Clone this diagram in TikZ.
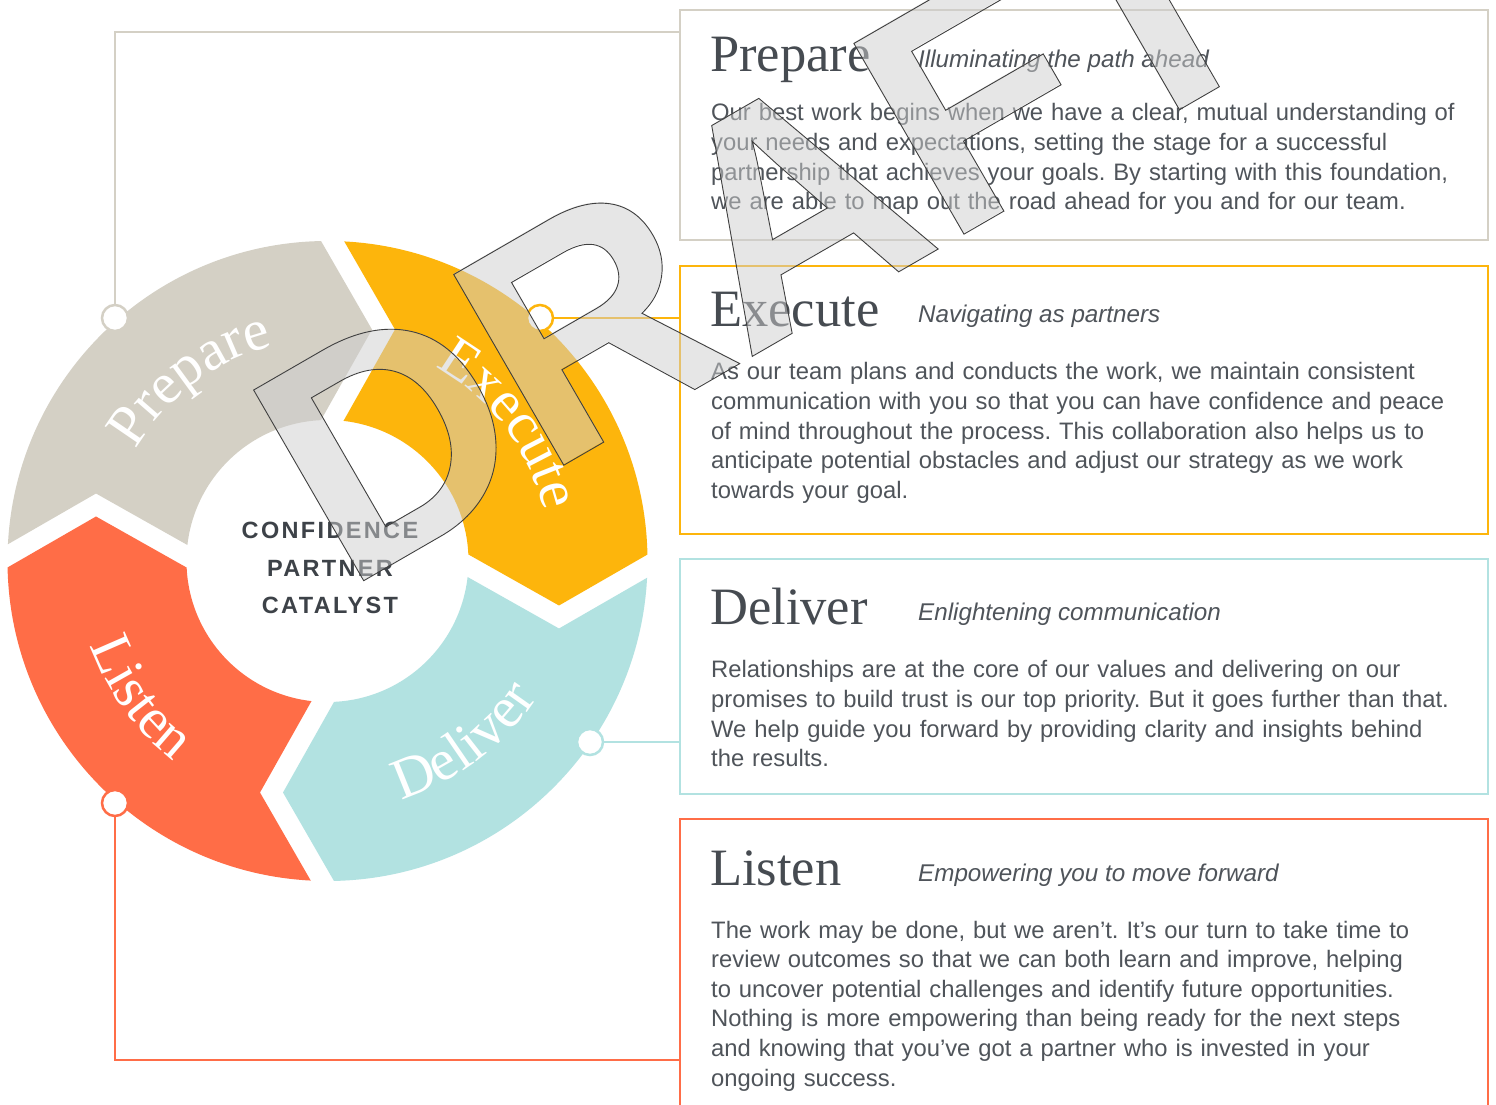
\documentclass[tikz,border=0pt]{standalone}
\usepackage{fontspec}
\setmainfont{Liberation Sans}
\newfontfamily\seriffont{Liberation Serif}
\newfontfamily\spacedfont[LetterSpace=10]{Liberation Sans}
\usetikzlibrary{decorations.text}
\frenchspacing
\definecolor{cgray}{HTML}{D4D0C5}
\definecolor{cyellow}{HTML}{FDB50C}
\definecolor{cteal}{HTML}{B2E2E1}
\definecolor{corange}{HTML}{FF6D47}
\definecolor{chead}{HTML}{464B51}
\definecolor{cbody}{HTML}{4F545A}
\definecolor{ccenter}{HTML}{3D4248}
\definecolor{wmgray}{HTML}{CECECE}
\newcommand\ringfont{\seriffont\fontsize{58}{62}\selectfont}
% #1 = tail boundary angle, #2 = colour (segment runs clockwise to #1-90)
\newcommand\ringseg[2]{%
  \begin{scope}
    \clip (0,0) -- ([shift={(#1-90:-12.2)}]#1:90)
      -- ([shift={(#1-90:67.5)}]#1:231.5)
      -- ([shift={(#1-90:-41.1)}]#1:420)
      -- (#1-45:650)
      -- ([shift={(#1-180:-64.1)}]#1-90:420)
      -- ([shift={(#1-180:44.5)}]#1-90:231.5)
      -- ([shift={(#1-180:-35.2)}]#1-90:90) -- cycle;
    \fill[#2, even odd rule] (0,0) circle[radius=320pt] (0,0) circle[radius=141pt];
  \end{scope}}
\begin{document}
\begin{tikzpicture}[x=1pt,y=1pt,
  conn/.style={line width=2.5pt},
  dot/.style={circle, draw, fill=white, line width=2.5pt, minimum size=26pt, inner sep=0pt},
  panel/.style={draw, line width=2.5pt, anchor=north west, inner sep=0pt, outer sep=0pt, minimum width=808pt},
  heading/.style={anchor=base west, inner sep=0pt, text=chead, font=\seriffont\fontsize{52.5}{56}\selectfont},
  subtitle/.style={anchor=base west, inner sep=0pt, text=cbody, font=\itshape\fontsize{24.2}{29.6}\selectfont},
  body/.style={anchor=base west, inner sep=0pt, text=cbody, text width=770pt, align=left, font=\fontsize{23.8}{29.6}\selectfont},
  ringlabel/.style={decorate, decoration={text along path, text align=center, text color=white}},
  wmark/.style={anchor=base west, rotate=30, inner sep=0pt, font=\bfseries\fontsize{320}{320}\selectfont}
]
\useasboundingbox (0,0) rectangle (1496,1104);
\fill[white] (0,0) rectangle (1496,1104);

% ring
\begin{scope}[shift={(327.5,543)}]
  \ringseg{-90}{corange}
  \ringseg{180}{cgray}
  \ringseg{90}{cyellow}
  \ringseg{0}{cteal}
  \path[ringlabel, decoration={text={|\ringfont|Prepare}}] (167:222) arc[start angle=167, end angle=87, radius=222pt];
  \path[ringlabel, decoration={text={|\ringfont|Execute}}] (77:222) arc[start angle=77, end angle=-3, radius=222pt];
  \path[ringlabel, decoration={text={|\ringfont|Deliver}}] (-93:250) arc[start angle=-93, end angle=-13, radius=250pt];
  \path[ringlabel, decoration={text={|\ringfont|Listen}}] (176:252) arc[start angle=176, end angle=256, radius=252pt];
\end{scope}

\node[align=center, inner sep=0pt, text=ccenter, font=\spacedfont\bfseries\fontsize{23.5}{37.5}\selectfont] (core) at (330,536) {CONFIDENCE\\PARTNER\\CATALYST};

% panels
\node[panel, draw=cgray, minimum height=230pt] (bp) at (680,1094) {};
\node[panel, draw=cyellow, minimum height=268pt] (be) at (680,838) {};
\node[panel, draw=cteal, minimum height=235pt] (bd) at (680,545) {};
\node[panel, draw=corange, minimum height=320pt] (bl) at (680,285) {};

% connector dots
\node[dot, draw=cgray] (cp) at (115,786) {};
\node[dot, draw=cyellow] (ce) at (540,786) {};
\node[dot, draw=cteal] (cd) at (590,362) {};
\node[dot, draw=corange] (cl) at (115,301) {};

\draw[conn, cgray] (cp) |- (bp.west |- 0,1072);
\draw[conn, cyellow] (ce) -- (be.west |- ce);
\draw[conn, cteal] (cd) -- (bd.west |- cd);
\draw[conn, corange] (cl) |- (bl.west |- 0,44);

% texts
\node[heading] (hp) at (710,1032) {Prepare};
\node[subtitle] (sp) at (918,1036.5) {Illuminating the path ahead};
\node[body] (tp) at (711,983) {Our best work begins when we have a clear, mutual understanding of\\your needs and expectations, setting the stage for a successful\\partnership that achieves your goals. By starting with this foundation,\\we are able to map out the road ahead for you and for our team.};

\node[heading] (he) at (710,777) {Execute};
\node[subtitle] (se) at (918,781) {Navigating as partners};
\node[body] (te) at (711,724) {As our team plans and conducts the work, we maintain consistent\\communication with you so that you can have confidence and peace\\of mind throughout the process. This collaboration also helps us to\\anticipate potential obstacles and adjust our strategy as we work\\towards your goal.};

\node[heading] (hd) at (710,479) {Deliver};
\node[subtitle] (sd) at (918,483) {Enlightening communication};
\node[body] (td) at (711,426) {Relationships are at the core of our values and delivering on our\\promises to build trust is our top priority. But it goes further than that.\\We help guide you forward by providing clarity and insights behind\\the results.};

\node[heading] (hl) at (710,219) {Listen};
\node[subtitle] (sl) at (918,223) {Empowering you to move forward};
\node[body] (tl) at (711,166) {The work may be done, but we aren’t. It’s our turn to take time to\\review outcomes so that we can both learn and improve, helping\\to uncover potential challenges and identify future opportunities.\\Nothing is more empowering than being ready for the next steps\\and knowing that you’ve got a partner who is invested in your\\ongoing success.};

% watermark: translucent fill, then opaque thin outline
\node[wmark, text=wmgray, text opacity=0.5] (wm) at (345,512.5) {DRAFT};
\node[wmark, text=black] (wmline) at (345,512.5) {\special{pdf:literal direct 1 Tr 0.9 w 0.25 0.25 0.25 RG}DRAFT};
\end{tikzpicture}
\end{document}
